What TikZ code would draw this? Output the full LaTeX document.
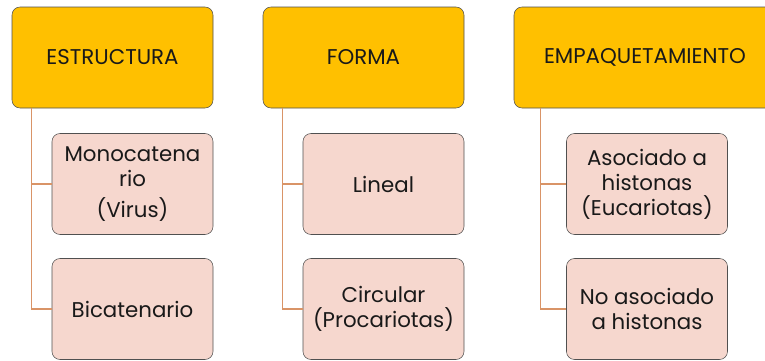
\documentclass[tikz,border=0pt]{standalone}
\usepackage{fontspec}
\setmainfont{Poppins}
\usepackage{xcolor}
\definecolor{boxgold}{HTML}{FFC000}
\definecolor{boxpink}{HTML}{F6D7CE}
\definecolor{linkorange}{HTML}{D99467}
\definecolor{edgegray}{HTML}{505050}
\usetikzlibrary{positioning}

\tikzset{
  main box/.style={
    draw=edgegray, fill=boxgold, rounded corners=6pt,
    minimum height=101*0.75pt, inner sep=2pt,
    font=\fontsize{16}{19}\selectfont, text=black!90
  },
  sub box/.style={
    draw=edgegray, fill=boxpink, rounded corners=6pt,
    minimum width=161*0.75pt, minimum height=101*0.75pt,
    inner sep=2pt, align=center,
    font=\fontsize{16}{18.75}\selectfont, text=black!90
  },
  link/.style={draw=linkorange, line width=0.9pt}
}

\begin{document}
\begin{tikzpicture}[x=0.75pt, y=-0.75pt]
\useasboundingbox (0,0) rectangle (765,361);

% Top row: the three headings
\node[main box, minimum width=201*0.75pt] (t1) at (112.5,57.5) {ESTRUCTURA};
\node[main box, minimum width=201*0.75pt] (t2) at (363.5,57.5) {FORMA};
\node[main box, minimum width=262*0.75pt] (t3) at (645,57.5) {EMPAQUETAMIENTO};

% Second level boxes
\node[sub box] (s11) at (132.5,184) {Monocatena\\rio\\[5pt](Virus)};
\node[sub box] (s12) at (132.5,309) {Bicatenario};
\node[sub box] (s21) at (383.5,184) {Lineal};
\node[sub box] (s22) at (383.5,309) {Circular\\(Procariotas)};
\node[sub box] (s31) at (647,184) {Asociado a\\histonas\\(Eucariotas)};
\node[sub box] (s32) at (647,309) {No asociado\\a histonas};

% Connectors from each heading to its boxes
\foreach \c/\dx in {1/20,2/20,3/27} {
  \foreach \r in {1,2} {
    \draw[link] ([xshift=\dx*0.75pt]t\c.south west) |- (s\c\r.west);
  }
}

\end{tikzpicture}
\end{document}
